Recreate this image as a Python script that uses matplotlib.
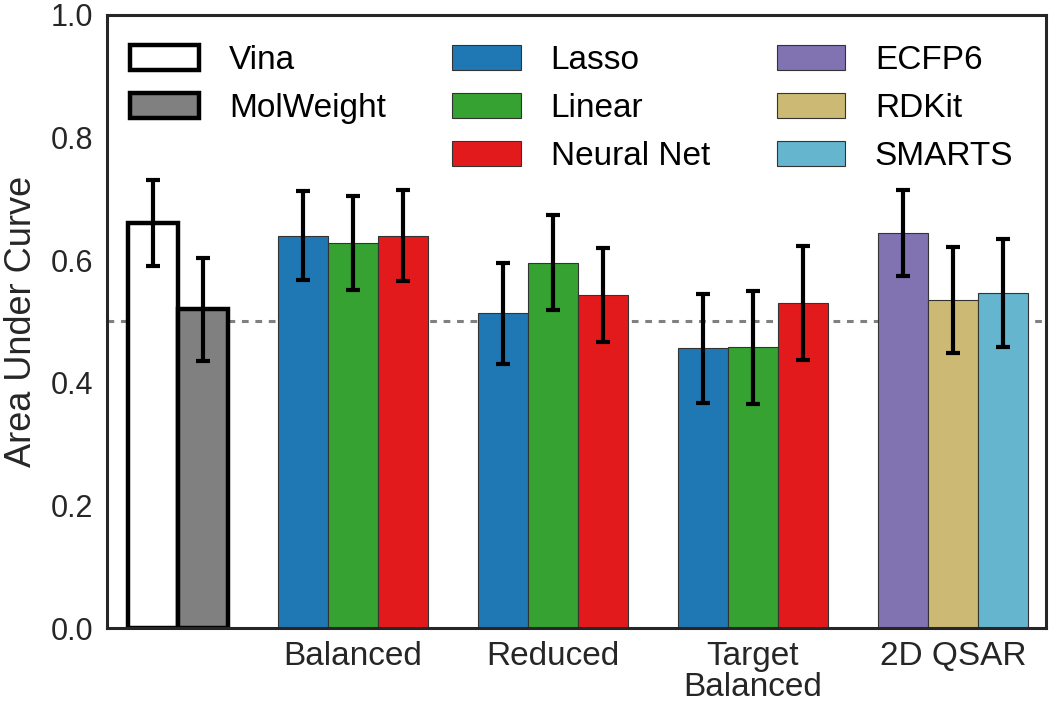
import numpy as np
import matplotlib
matplotlib.use("Agg")
import matplotlib.pyplot as plt
from matplotlib.patches import Rectangle

plt.rcParams['font.family'] = ['Liberation Sans', 'DejaVu Sans']

# baselines
base_labels = ['Vina', 'MolWeight']
base_auc = [0.660, 0.520]
base_err = [0.070, 0.084]

# model groups (Lasso, Linear, Neural Net)
groups = ['Balanced', 'Reduced', 'Target\nBalanced']
model_labels = ['Lasso', 'Linear', 'Neural Net']
model_auc = [[0.640, 0.628, 0.640],
             [0.513, 0.596, 0.543],
             [0.456, 0.458, 0.530]]
model_err = [[0.072, 0.076, 0.074],
             [0.082, 0.078, 0.077],
             [0.089, 0.092, 0.093]]

# 2D QSAR fingerprints
qsar_group = '2D QSAR'
qsar_labels = ['ECFP6', 'RDKit', 'SMARTS']
qsar_auc = [0.644, 0.535, 0.546]
qsar_err = [0.070, 0.087, 0.088]

model_colors = ['#1f78b4', '#35a231', '#e31a1c']
qsar_colors = ['#8172b2', '#ccb974', '#64b5cd']

err_kw = dict(ecolor='black', elinewidth=3.0, capsize=5, capthick=3.0)

fig = plt.figure(figsize=(10.5, 7.01), dpi=100)
ax = fig.add_axes([0.102, 0.104, 0.894, 0.875])

ax.axhline(0.5, color='gray', lw=2.2, ls=(0, (2.2, 2.2)), zorder=0)

handles = []
# baselines with heavy black outline
for i, (lab, v, e, fc) in enumerate(zip(base_labels, base_auc, base_err, ['white', 'gray'])):
    b = ax.bar(i, v, width=1.0, color=fc, edgecolor='black', linewidth=3.2,
               yerr=e, error_kw=err_kw, label=lab, zorder=2)
    handles.append(b)
# empty slot so the first legend column only holds two entries
handles.append(Rectangle((0, 0), 1, 1, fill=False, edgecolor='none', label=' '))

centers = []
for g, (vals, errs) in enumerate(zip(model_auc, model_err)):
    c = 4 + 4 * g
    centers.append(c)
    for k in range(3):
        b = ax.bar(c - 1 + k, vals[k], width=1.0, color=model_colors[k],
                   edgecolor='#333333', linewidth=0.8, yerr=errs[k],
                   error_kw=err_kw, label=model_labels[k], zorder=2)
        if g == 0:
            handles.append(b)

c = 4 + 4 * len(groups)
centers.append(c)
for k in range(3):
    b = ax.bar(c - 1 + k, qsar_auc[k], width=1.0, color=qsar_colors[k],
               edgecolor='#333333', linewidth=0.8, yerr=qsar_err[k],
               error_kw=err_kw, label=qsar_labels[k], zorder=2)
    handles.append(b)

ax.set_xlim(-0.92, 17.86)
ax.set_ylim(0, 1.0)
ax.set_yticks(np.arange(0, 1.01, 0.2))
ax.set_yticklabels(['%.1f' % t for t in np.arange(0, 1.01, 0.2)], fontsize=22, color='#262626')
ax.set_xticks(centers)
ax.set_xticklabels(groups + [qsar_group], fontsize=24, color='#262626', linespacing=1.0)
ax.tick_params(axis='y', length=0, pad=10)
ax.tick_params(axis='x', length=0, pad=9)
ax.set_ylabel('Area Under Curve', fontsize=26, color='#262626', labelpad=8)
for s in ax.spines.values():
    s.set_linewidth(2.2)
    s.set_color('#262626')

leg = ax.legend(handles=handles, loc='upper left', ncol=3, frameon=False,
                fontsize=24, handlelength=2.05, handleheight=0.8,
                handletextpad=0.9, columnspacing=2.0, labelspacing=0.5,
                borderaxespad=0.3, bbox_to_anchor=(0.0, 0.989))

fig.savefig('out.png', dpi=100)
